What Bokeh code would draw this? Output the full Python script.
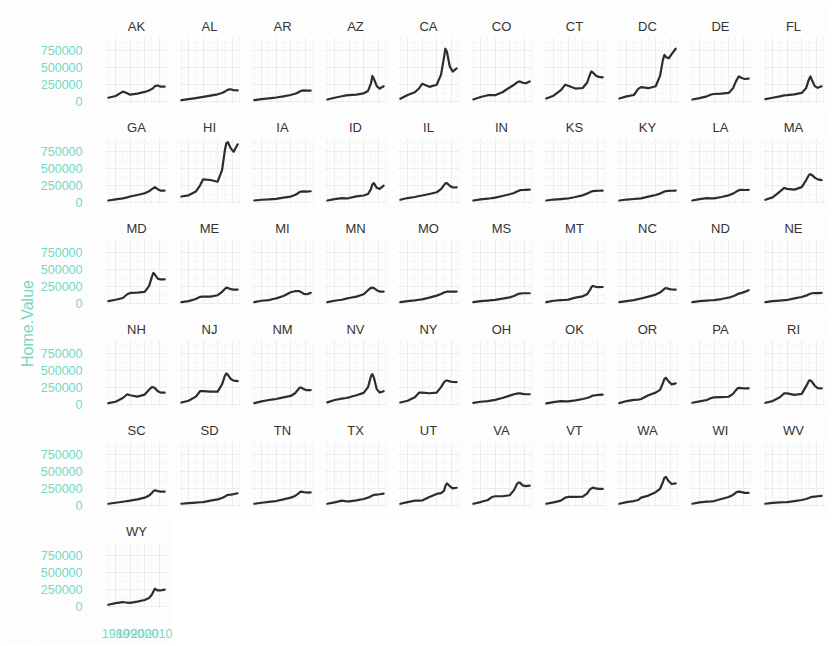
import math
from bokeh.plotting import figure
from bokeh.layouts import gridplot, row
from bokeh.models import Range1d, FixedTicker, Label, BasicTickFormatter
from bokeh.embed import file_html
from bokeh.resources import INLINE

# ---- data (Home.Value, in thousands of dollars) ----
years = [1975, 1980, 1985, 1988, 1990, 1995, 2000, 2003, 2005, 2006, 2007, 2009, 2011, 2013.75]

states = ["AK", "AL", "AR", "AZ", "CA", "CO", "CT", "DC", "DE", "FL",
          "GA", "HI", "IA", "ID", "IL", "IN", "KS", "KY", "LA", "MA",
          "MD", "ME", "MI", "MN", "MO", "MS", "MT", "NC", "ND", "NE",
          "NH", "NJ", "NM", "NV", "NY", "OH", "OK", "OR", "PA", "RI",
          "SC", "SD", "TN", "TX", "UT", "VA", "VT", "WA", "WI", "WV",
          "WY"]

AK = [60, 85, 150, 125, 105, 120, 145, 165, 190, 205, 230, 240, 222, 222]
AL = [25, 40, 55, 65, 72, 90, 110, 130, 150, 165, 178, 185, 170, 168]
AR = [25, 38, 50, 58, 63, 80, 100, 118, 135, 148, 160, 168, 165, 165]
AZ = [34, 60, 82, 95, 98, 105, 125, 160, 270, 380, 340, 230, 195, 228]
CA = [45, 100, 140, 200, 265, 220, 250, 400, 650, 780, 740, 520, 445, 490]
CO = [34, 70, 97, 97, 97, 140, 210, 250, 285, 295, 300, 280, 272, 300]
CT = [48, 90, 170, 252, 235, 195, 203, 280, 400, 446, 430, 385, 365, 358]
DC = [48, 80, 100, 190, 215, 200, 228, 380, 620, 688, 660, 640, 700, 780]
DE = [34, 55, 80, 107, 115, 120, 131, 200, 300, 340, 373, 350, 335, 340]
FL = [39, 60, 80, 95, 97, 110, 131, 200, 330, 373, 320, 230, 205, 228]
GA = [34, 50, 65, 80, 92, 115, 140, 170, 200, 215, 228, 200, 178, 179]
HI = [92, 110, 165, 260, 345, 335, 310, 480, 780, 880, 890, 800, 750, 860]
IA = [34, 45, 50, 55, 58, 75, 92, 115, 140, 155, 165, 168, 165, 170]
ID = [34, 55, 68, 65, 70, 95, 107, 130, 200, 270, 290, 220, 205, 252]
IL = [44, 70, 85, 100, 107, 130, 155, 200, 260, 285, 290, 250, 225, 228]
IN = [34, 50, 60, 70, 75, 100, 125, 145, 165, 175, 185, 188, 190, 194]
KS = [34, 48, 55, 60, 63, 85, 110, 135, 155, 165, 172, 175, 177, 179]
KY = [34, 48, 56, 62, 66, 90, 115, 135, 155, 165, 172, 175, 177, 180]
LA = [34, 55, 68, 65, 66, 85, 110, 135, 160, 175, 185, 190, 188, 189]
MA = [44, 80, 165, 218, 205, 194, 230, 330, 410, 421, 410, 370, 345, 334]
MD = [39, 60, 85, 140, 160, 165, 174, 260, 400, 455, 430, 370, 358, 360]
ME = [25, 40, 70, 102, 105, 105, 126, 175, 220, 237, 232, 215, 208, 208]
MI = [24, 45, 55, 70, 80, 115, 170, 185, 188, 185, 175, 145, 140, 160]
MN = [24, 45, 60, 75, 85, 105, 140, 200, 235, 237, 230, 200, 180, 180]
MO = [24, 40, 50, 60, 65, 90, 120, 145, 165, 172, 178, 180, 178, 179]
MS = [24, 38, 48, 55, 58, 75, 95, 115, 135, 145, 150, 155, 155, 155]
MT = [24, 45, 55, 58, 62, 90, 110, 140, 200, 245, 262, 250, 245, 247]
NC = [24, 40, 55, 68, 78, 105, 135, 165, 200, 220, 233, 220, 210, 208]
ND = [24, 40, 48, 52, 55, 70, 90, 110, 130, 140, 150, 160, 175, 199]
NE = [24, 40, 48, 53, 56, 80, 100, 120, 140, 148, 155, 158, 158, 160]
NH = [24, 45, 100, 155, 140, 120, 150, 220, 262, 258, 245, 200, 180, 179]
NJ = [34, 60, 120, 203, 200, 194, 194, 300, 430, 460, 440, 380, 355, 349]
NM = [25, 50, 70, 80, 85, 110, 130, 170, 220, 250, 255, 230, 215, 215]
NV = [35, 70, 90, 100, 110, 140, 175, 260, 420, 450, 400, 230, 180, 200]
NY = [34, 60, 110, 179, 180, 170, 179, 260, 330, 350, 358, 345, 335, 334]
OH = [28, 45, 55, 65, 72, 100, 135, 155, 165, 170, 168, 160, 155, 155]
OK = [20, 40, 55, 50, 50, 65, 85, 100, 115, 125, 135, 140, 145, 150]
OR = [25, 55, 73, 75, 85, 140, 179, 220, 320, 380, 397, 340, 300, 315]
PA = [30, 50, 70, 100, 108, 112, 118, 160, 215, 240, 250, 245, 240, 242]
RI = [30, 55, 110, 170, 168, 145, 160, 270, 355, 358, 340, 280, 245, 240]
SC = [30, 45, 60, 70, 75, 95, 120, 150, 190, 215, 228, 215, 208, 208]
SD = [30, 40, 48, 52, 55, 75, 95, 115, 135, 150, 160, 165, 172, 184]
TN = [30, 45, 58, 65, 70, 95, 120, 145, 175, 195, 208, 200, 195, 197]
TX = [30, 50, 75, 65, 65, 80, 100, 120, 140, 150, 160, 165, 170, 180]
UT = [30, 55, 75, 75, 78, 130, 175, 185, 220, 290, 330, 290, 255, 265]
VA = [30, 55, 85, 130, 140, 140, 155, 230, 320, 340, 340, 300, 290, 296]
VT = [30, 50, 75, 120, 130, 130, 135, 180, 240, 255, 267, 255, 250, 248]
WA = [30, 55, 70, 85, 120, 150, 200, 250, 350, 410, 426, 360, 320, 330]
WI = [30, 50, 60, 65, 70, 100, 130, 160, 195, 205, 208, 200, 190, 190]
WV = [30, 42, 50, 52, 55, 70, 85, 100, 115, 125, 130, 135, 140, 145]
WY = [30, 55, 70, 60, 58, 75, 100, 130, 180, 225, 265, 240, 240, 252]

values_k = {
    "AK": AK, "AL": AL, "AR": AR, "AZ": AZ, "CA": CA, "CO": CO, "CT": CT, "DC": DC, "DE": DE, "FL": FL,
    "GA": GA, "HI": HI, "IA": IA, "ID": ID, "IL": IL, "IN": IN, "KS": KS, "KY": KY, "LA": LA, "MA": MA,
    "MD": MD, "ME": ME, "MI": MI, "MN": MN, "MO": MO, "MS": MS, "MT": MT, "NC": NC, "ND": ND, "NE": NE,
    "NH": NH, "NJ": NJ, "NM": NM, "NV": NV, "NY": NY, "OH": OH, "OK": OK, "OR": OR, "PA": PA, "RI": RI,
    "SC": SC, "SD": SD, "TN": TN, "TX": TX, "UT": UT, "VA": VA, "VT": VT, "WA": WA, "WI": WI, "WV": WV,
    "WY": WY,
}

x_ticks = [1980, 1990, 2000, 2010]
x_minor = [1975, 1985, 1995, 2005, 2015]
y_ticks = [0, 250000, 500000, 750000]
y_minor = [125000, 375000, 625000, 875000]
y_title = "Home.Value"

# ---- style ----
FONT = "Liberation Sans"
TEAL = "#74D8C5"
GRID = "#EBEBF1"
MINOR = "#F4F4F8"
BG = "#FDFDFD"
LINE = "#2d2d2d"
NCOL = 10
TOTAL_H = 644

xr = Range1d(1973.06, 2015.69)
yr = Range1d(-25000, 945000)

figs = []
for i, st in enumerate(states):
    r, c = divmod(i, NCOL)
    bottom_axis = (i == len(states) - 1)
    p = figure(frame_width=62, frame_height=66, x_range=xr, y_range=yr,
               output_backend="svg", toolbar_location=None, title=st,
               x_axis_location="below" if bottom_axis else None,
               y_axis_location="left" if c == 0 else None,
               min_border_left=70 if c == 0 else 6, min_border_right=5,
               min_border_top=37 if r == 0 else 27,
               min_border_bottom=36 if bottom_axis else 8,
               background_fill_color=BG, border_fill_color=BG,
               outline_line_color=None)
    p.title.align = "center"
    p.title.text_font = FONT
    p.title.text_font_size = "13px"
    p.title.text_font_style = "normal"
    p.title.text_color = "#333333"
    p.title.standoff = 8

    p.xgrid.ticker = FixedTicker(ticks=x_ticks, minor_ticks=x_minor)
    p.ygrid.ticker = FixedTicker(ticks=y_ticks, minor_ticks=y_minor)
    for g in (p.xgrid, p.ygrid):
        g.grid_line_color = GRID
        g.grid_line_width = 1
        g.minor_grid_line_color = MINOR
        g.minor_grid_line_width = 0.8

    if c == 0:
        ya = p.yaxis[0]
        ya.ticker = FixedTicker(ticks=y_ticks, minor_ticks=y_minor)
        ya.formatter = BasicTickFormatter(use_scientific=False)
        ya.axis_line_color = None
        ya.major_tick_line_color = None
        ya.minor_tick_line_color = None
        ya.major_tick_out = 0
        ya.major_tick_in = 0
        ya.minor_tick_out = 0
        ya.major_label_standoff = 23
        ya.major_label_text_color = TEAL
        ya.major_label_text_font = FONT
        ya.major_label_text_font_size = "12.5px"
    if bottom_axis:
        xa = p.xaxis[0]
        xa.ticker = FixedTicker(ticks=x_ticks, minor_ticks=x_minor)
        xa.axis_line_color = None
        xa.major_tick_line_color = None
        xa.minor_tick_line_color = None
        xa.major_tick_out = 0
        xa.major_tick_in = 0
        xa.minor_tick_out = 0
        xa.major_label_standoff = 20
        xa.major_label_text_color = TEAL
        xa.major_label_text_font = FONT
        xa.major_label_text_font_size = "12.5px"

    p.line(x=years, y=[v * 1000 for v in values_k[st]],
           line_color=LINE, line_width=2.2, line_join="round", line_cap="round")
    figs.append(p)

children = [figs[k:k + NCOL] for k in range(0, len(figs), NCOL)]
children[-1] = children[-1] + [None] * (NCOL - len(children[-1]))
grid = gridplot(children, toolbar_location=None)

lab = figure(width=35, height=TOTAL_H, output_backend="svg", toolbar_location=None,
             x_axis_location=None, y_axis_location=None, outline_line_color=None,
             min_border=0, background_fill_color=BG, border_fill_color=BG)
lab.grid.visible = False
lab.add_layout(Label(x=27, y=TOTAL_H - 323, x_units="screen", y_units="screen",
                     text=y_title, angle=math.pi / 2, text_align="center",
                     text_baseline="middle", text_font=FONT, text_font_size="16px",
                     text_color=TEAL))

layout = row(lab, grid)
open("out.html", "w").write(file_html(layout, INLINE))
